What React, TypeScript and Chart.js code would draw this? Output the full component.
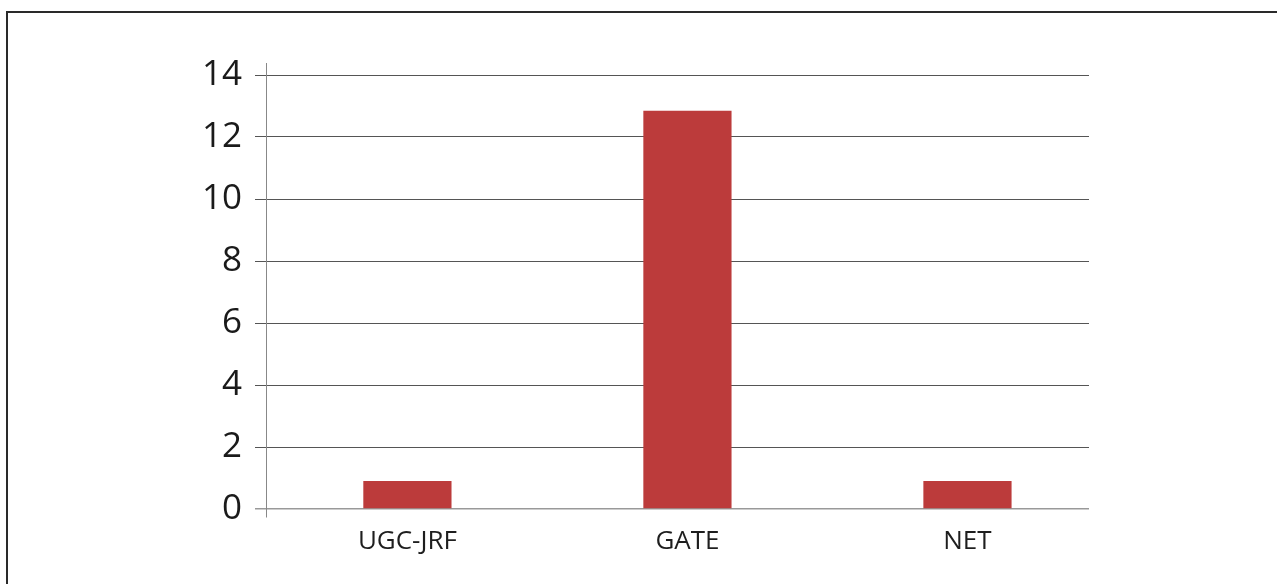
import React, { useEffect, useRef } from "react";
import { Chart, registerables } from "chart.js";

Chart.register(...registerables);

const categories: string[] = ["UGC-JRF", "GATE", "NET"];
const values: number[] = [0.9, 12.85, 0.9];
const yTicks: number[] = [0, 2, 4, 6, 8, 10, 12, 14];

export default function App() {
  const ref = useRef<HTMLCanvasElement | null>(null);

  useEffect(() => {
    document.body.style.margin = "0";
    const canvas = ref.current;
    if (!canvas) return;
    const chart = new Chart(canvas, {
      type: "bar",
      data: {
        datasets: [
          {
            data: values.map((v, i) => ({ x: i, y: v })),
            backgroundColor: "#bc3b3b",
            borderWidth: 0,
            barPercentage: 0.315,
            categoryPercentage: 1,
          },
        ],
      },
      options: {
        responsive: false,
        animation: false,
        devicePixelRatio: 1,
        layout: { padding: { left: 0, right: 188, top: 63, bottom: 0 } },
        plugins: { legend: { display: false }, tooltip: { enabled: false } },
        scales: {
          x: {
            type: "linear",
            offset: false,
            min: -0.505,
            max: 2.434,
            afterBuildTicks: (scale: any) => {
              scale.ticks = categories.map((_, i) => ({ value: i }));
            },
            afterFit: (scale: any) => {
              scale.height = 67;
            },
            grid: { display: false, offset: false },
            border: { display: false },
            ticks: {
              autoSkip: false,
              maxRotation: 0,
              padding: 1,
              color: "#1e1e1e",
              font: { family: "'Open Sans'", size: 26 },
              callback: (v: any) => categories[Math.round(Number(v))] ?? "",
            },
          },
          y: {
            min: -8 / 31,
            max: 14 + 12 / 31,
            afterBuildTicks: (scale: any) => {
              scale.ticks = yTicks.map((v) => ({ value: v }));
            },
            afterFit: (scale: any) => {
              scale.width = 266;
            },
            grid: {
              color: (ctx: any) => (ctx.tick && ctx.tick.value === 0 ? "#999" : "#555"),
              lineWidth: (ctx: any) => (ctx.tick && ctx.tick.value === 0 ? 1.5 : 1),
              tickLength: 11,
              drawTicks: true,
            },
            border: { display: true, color: "#888", width: 1 },
            ticks: {
              padding: 13,
              color: "#1a1a1a",
              font: { family: "'Open Sans'", size: 35 },
            },
          },
        },
      },
    });
    return () => chart.destroy();
  }, []);

  return (
    <div style={{ position: "relative", width: 1277, height: 584, overflow: "hidden", background: "#fff" }}>
      <div
        style={{
          position: "absolute",
          left: 6,
          top: 11,
          width: 1400,
          height: 700,
          borderLeft: "2px solid #2a2a2a",
          borderTop: "2px solid #2a2a2a",
        }}
      />
      <canvas ref={ref} width={1277} height={584} style={{ position: "absolute", left: 0, top: 0 }} />
    </div>
  );
}
